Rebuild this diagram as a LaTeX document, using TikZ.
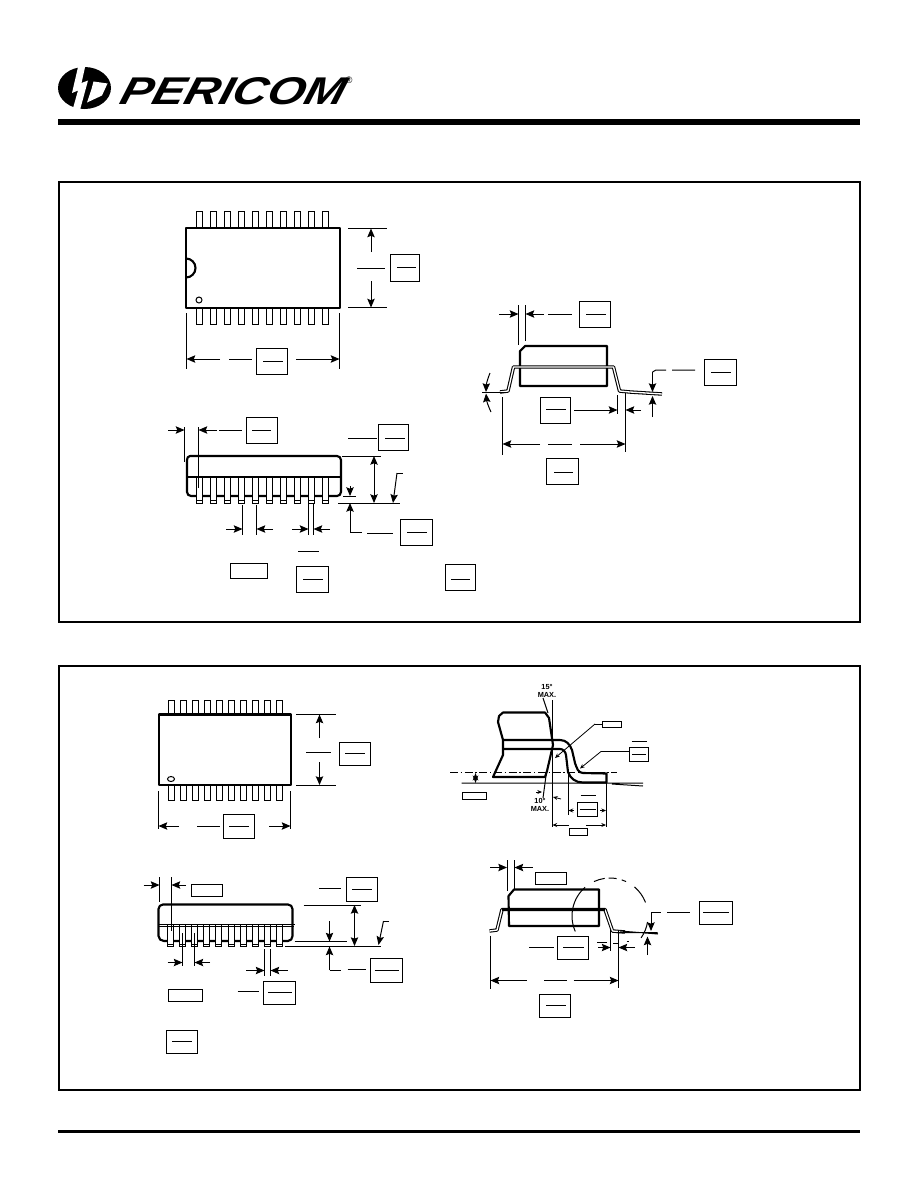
\documentclass[tikz,border=0pt]{standalone}
\usepackage{fontspec}
\setmainfont{Liberation Sans}
\usetikzlibrary{arrows.meta}
\tikzset{
  frame/.style={draw,line width=1.5pt,outer sep=0pt,inner sep=0pt,anchor=north west},
  outline/.style={line width=1.6pt,line join=round},
  thin line/.style={line width=0.75pt},
  dim/.style={line width=0.75pt,-{Stealth[length=6.5pt,width=5.5pt,inset=1pt]}},
  dimboth/.style={line width=0.75pt,{Stealth[length=6.5pt,width=5.5pt,inset=1pt]}-{Stealth[length=6.5pt,width=5.5pt,inset=1pt]}},
  small/.style={line width=0.6pt,-{Stealth[length=3.5pt,width=3pt]}},
  lab/.style={draw,line width=0.6pt,inner sep=0pt,outer sep=0pt,anchor=north west},
  pin/.style={draw,line width=0.75pt,fill=white},
  lead/.style={line width=2.6pt,line join=round},
  leadin/.style={white,line width=1pt,line join=round}
}
\newcommand{\plainbox}[5]{
  \node (#1) [lab,minimum width={(#4-#2)*0.75pt},minimum height={(#5-#3)*0.75pt}] at (#2,#3) {};
}
\begin{document}
\begin{tikzpicture}[x=0.75pt,y=-0.75pt]
  \useasboundingbox[fill=white] (0,0) rectangle (918,1188);
  % logo
  \fill (84.5,88) ellipse [x radius=26.5,y radius=21];
  \fill[white] (78.5,65) -- (85.5,65) -- (81.5,83) -- (88,80.5) -- (80,110) -- (72.5,110) -- (78,90.5) -- (72,93) -- cycle;
  \fill[white] (93.5,81.5) -- (107.5,83.5) -- (102,95.5) -- (87,102.5) -- (91.5,89) -- cycle;
  \node (brand) [font=\bfseries\itshape,transform shape,xscale=1.24,xslant=0.22,anchor=center,inner sep=0pt]
    at (234,91) {\fontsize{29pt}{29pt}\selectfont PERICOM};
  \node (reg) [font=\fontsize{7pt}{7pt}\selectfont,inner sep=0pt] at (349,80) {\textregistered};
  \fill (58,119) rectangle (860,124.7);
  \fill (58,1130) rectangle (860,1133);
  \node (panelA) [frame,minimum width=600.75pt,minimum height=330pt] at (58.5,182) {};
  \node (panelB) [frame,minimum width=600.75pt,minimum height=318pt] at (59,666) {};

  % panel A, top view
  \foreach \i in {0,...,9} {
    \draw[pin] (196+14.1*\i,211) rectangle +(6,17);
    \draw[pin] (196+14.1*\i,308) rectangle +(6,16);
  }
  \draw[outline] (186,228) rectangle (340,308);
  \draw[outline] (186,258.5) arc [start angle=-90,end angle=90,radius=9.5];
  \draw[thin line] (199,300) circle [radius=3];
  \plainbox{wdA}{390}{254}{419}{281}
  \draw[thin line] (397,267.5) -- (416,267.5);
  \draw[thin line] (348,228.5) -- (387,228.5) (348,307.5) -- (387,307.5) (357,268.5) -- (385,268.5);
  \draw[dim] (371,252) -- (371,228.5);
  \draw[dim] (371,281) -- (371,307.5);
  \plainbox{lnA}{256}{348}{287.5}{374.5}
  \draw[thin line] (263,361) -- (283,361);
  \draw[thin line] (186.5,313) -- (186.5,369) (339.5,313) -- (339.5,369) (229,359) -- (252,359);
  \draw[dim] (220,359) -- (186.5,359);
  \draw[dim] (296,359) -- (339.5,359);

  % panel A, side view
  \draw[outline] (190,456) -- (337,456) to[out=0,in=90] (341,460) -- (341,492) to[out=-90,in=0] (337,496)
    -- (191,496) to[out=180,in=-90] (187,492) -- (187,460) to[out=90,in=180] cycle;
  \foreach \i in {0,...,9} {
    \draw[pin] (196+14.05*\i,477.5) rectangle +(6,25.5);
    \draw[thin line] (196+14.05*\i,500) -- +(6,0);
  }
  \draw[outline] (186,477) -- (341,477);
  \draw[thin line] (184.5,427) -- (184.5,462) (198.5,427) -- (198.5,488);
  \draw[dim] (168,430) -- (184.5,430);
  \draw[dim] (217,430) -- (198.5,430);
  \draw[thin line] (219,430) -- (242,430);
  \plainbox{pitchA}{246.5}{417.5}{277.5}{443.5}
  \draw[thin line] (252,430) -- (271,430);
  \plainbox{htA}{378}{424}{408}{450}
  \draw[thin line] (385,438) -- (405,438) (348,438) -- (377,438);
  \draw[thin line] (342,456) -- (381,456) (338,503) -- (400,503) (343,496) -- (356,496);
  \draw[dimboth] (374,456) -- (374,503);
  \draw[dim] (350,486) -- (350,496);
  \draw[dim] (350,532) -- (350,503);
  \draw[thin line] (350,532) -- (362,532) (367,533) -- (393,533);
  \plainbox{offA}{400}{519}{432.5}{545.5}
  \draw[thin line] (407,532) -- (427,532);
  \draw[thin line] (402.5,473) -- (397,473);
  \draw[dim] (397,473) -- (393,503);
  \draw[thin line] (242.5,505) -- (242.5,535) (256.5,505) -- (256.5,535) (308.5,503) -- (308.5,535) (313.5,503) -- (313.5,535);
  \draw[dim] (226,529) -- (242.5,529);
  \draw[dim] (273,529) -- (256.5,529);
  \draw[dim] (292,529) -- (308.5,529);
  \draw[dim] (330,529) -- (313.5,529);
  \draw[thin line] (298,551) -- (319,551);
  \plainbox{seatA}{230}{563.5}{267}{578.5}
  \plainbox{legA}{296}{566}{328}{592.5}
  \draw[thin line] (303,579) -- (323,579);
  \plainbox{noteA}{445}{564}{475.5}{590.5}
  \draw[thin line] (451,579) -- (470,579);

  % panel A, end view
  \draw[thin line] (518.5,305) -- (518.5,345) (525.5,305) -- (525.5,341) (548,314) -- (572,314);
  \draw[dim] (499,314) -- (518.5,314);
  \draw[dim] (544,314) -- (525.5,314);
  \plainbox{tpA}{579}{301}{610.5}{327}
  \draw[thin line] (586,314) -- (606,314);
  \draw[outline] (520,386) -- (520,351) -- (525,346) -- (607,346) -- (607,386) -- cycle;
  \draw[lead] (500,392) -- (508,391) -- (513.5,367) -- (613.5,367) -- (619.5,391) -- (630,392) -- (662,394);
  \draw[leadin] (500,392) -- (508,391) -- (513.5,367) -- (613.5,367) -- (619.5,391) -- (630,392) -- (662,394);
  \draw[thin line] (482,392) -- (508,392);
  \draw[dim] (490,373) to[bend right=10] (486,392);
  \draw[dim] (491,412) to[bend left=10] (486,393.5);
  \draw[dim] (652.5,372) -- (652.5,392);
  \draw[thin line] (652.5,372) -- (656,370) -- (666,370) (672,370) -- (695,370);
  \plainbox{thkA}{704.5}{359}{736}{385.5}
  \draw[thin line] (711,372) -- (731,372);
  \draw[dim] (652.5,417) -- (652.5,396);
  \plainbox{ftA}{540}{397}{570.5}{423}
  \draw[thin line] (546,409) -- (566,409);
  \draw[thin line] (617.5,395) -- (617.5,414) (625.5,393) -- (625.5,452) (502.5,397) -- (502.5,455) (548,444) -- (572,444);
  \draw[dim] (574,410) -- (617.5,410);
  \draw[dim] (641,410) -- (625.5,410);
  \draw[dim] (540,444) -- (502.5,444);
  \draw[dim] (580,444) -- (625.5,444);
  \plainbox{spanA}{546.5}{458}{578.5}{484.5}
  \draw[thin line] (554,472) -- (573,472);

  % panel B, top view
  \foreach \i in {0,...,9} {
    \draw[pin] (168.5+12*\i,700) rectangle +(6,15);
    \draw[pin] (168.5+12*\i,785) rectangle +(6,15);
  }
  \draw[outline] (159,714.5) rectangle (291,785);
  \draw[thin line] (171,779) ellipse [x radius=3.5,y radius=2.5];
  \draw[thin line] (296,714.5) -- (336,714.5) (296,785) -- (336,785) (306,752) -- (331,752);
  \draw[dim] (319.5,738) -- (319.5,714.5);
  \draw[dim] (319.5,762) -- (319.5,785);
  \plainbox{wdB}{339.5}{742}{370.5}{765.5}
  \draw[thin line] (345,753) -- (365,753);
  \draw[thin line] (158.5,791) -- (158.5,829) (290.5,791) -- (290.5,829) (197,826) -- (220,826);
  \draw[dim] (179,826) -- (158.5,826);
  \draw[dim] (269,826) -- (290.5,826);
  \plainbox{lnB}{223}{814}{254.5}{838}
  \draw[thin line] (229,826) -- (249,826);

  % panel B, lead detail
  \node (maxtop) [font=\bfseries\fontsize{5.5pt}{5.4pt}\selectfont,align=center,inner sep=0pt] at (547,691) {15°\\MAX.};
  \node (maxlow) [font=\bfseries\fontsize{5.5pt}{5.4pt}\selectfont,align=center,inner sep=0pt] at (540,805) {10°\\MAX.};
  \draw[outline] (503,712.5) -- (545,712.5) -- (549,718) -- (553,745) -- (547,771) -- (545,777) -- (493,777)
    -- (503,755) -- (503,740) -- (498,722) -- (499,716) -- cycle;
  \draw[outline] (503,740) -- (560,740) to[out=0,in=110] (572,750) -- (575,763) to[out=-70,in=180] (583,773) -- (606.5,773.5) -- (606.5,782.5)
    -- (583,782.5) to[out=180,in=-70] (568,772) -- (566,755) to[out=100,in=0] (560,749) -- (503,749);
  \draw[thin line] (552.5,700) -- (552.5,827);
  \draw[thin line] (543,698) -- (548,713) (546.5,772) -- (543,798);
  \draw[small] (536,792) -- (542,792);
  \draw[small] (561,799) -- (553,797);
  \draw[thin line,dash pattern=on 6pt off 2pt on 1pt off 2pt] (450,772.5) -- (617,772.5);
  \draw[thin line] (461.5,783) -- (643,783) (612,784) -- (643,786);
  \draw[small,<->,>=Stealth] (475.5,773) -- (475.5,783);
  \plainbox{baseB}{462.5}{792.5}{486.5}{799.5}
  \plainbox{radB}{602.5}{721.5}{621.5}{727.5}
  \draw[thin line] (602.5,724) -- (595,724);
  \draw[small] (595,724) -- (555,758);
  \plainbox{rgB}{629.5}{747.5}{648.5}{761.5}
  \draw[thin line] (632,754) -- (646,754) (631.5,741.5) -- (646.5,741.5) (629.5,751.5) -- (601,751.5);
  \draw[small] (601,751.5) -- (580,768.5);
  \draw[thin line] (568.5,772) -- (568.5,815) (606,774) -- (606,827);
  \draw[small] (574,810.5) -- (568.5,810.5);
  \draw[small] (600,810.5) -- (606,810.5);
  \plainbox{ftB}{577.5}{802.5}{597.5}{816.5}
  \draw[thin line] (579.5,809.5) -- (595.5,809.5) (580.5,795) -- (595.5,795);
  \draw[small] (569,825) -- (552.5,825);
  \draw[small] (586,825) -- (606,825);
  \plainbox{gaB}{569.5}{828.5}{587.5}{835}

  % panel B, side view
  \draw[outline] (163,904.5) -- (288,904.5) to[out=0,in=90] (292.5,909) -- (292.5,936) to[out=-90,in=0] (288,941)
    -- (164,941) to[out=180,in=-90] (158.5,936) -- (158.5,909) to[out=90,in=180] cycle;
  \foreach \i in {0,...,9} {
    \draw[pin] (167.5+12.1*\i,924) rectangle +(6,22.5);
    \draw[thin line] (167.5+12.1*\i,944) -- +(6,0);
  }
  \draw[thin line] (158,924) -- (295,924) (158,926.5) -- (294,926.5);
  \draw[thin line] (159.5,877) -- (159.5,901.5) (171.5,877) -- (171.5,931);
  \draw[dim] (143.5,885) -- (159.5,885);
  \draw[dim] (186,885) -- (171.5,885);
  \plainbox{pitchB}{191.5}{884.5}{222.5}{896.5}
  \plainbox{htB}{346.5}{877.5}{377.5}{901.5}
  \draw[thin line] (352,889) -- (372,889) (319,888.5) -- (341,888.5);
  \draw[thin line] (303.5,905) -- (360.5,905) (285,946.5) -- (381,946.5) (294.5,941.5) -- (346.5,941.5);
  \draw[dimboth] (354.5,905) -- (354.5,946);
  \draw[dim] (329.5,921) -- (329.5,941.5);
  \draw[dim] (329.5,970) -- (329.5,946.5);
  \draw[thin line] (329.5,970) -- (341,970) (347.5,969.5) -- (366,969.5);
  \plainbox{offB}{370.5}{958.5}{402.5}{982.5}
  \draw[thin line] (374.5,970) -- (399,970);
  \draw[thin line] (389,921) -- (383.5,921);
  \draw[dim] (383.5,921) -- (378.5,945);
  \draw[thin line] (182.5,933) -- (182.5,966) (194.5,933) -- (194.5,966) (264.5,949) -- (264.5,975.5) (270.5,949) -- (270.5,975.5);
  \draw[dim] (167.5,962.5) -- (182.5,962.5);
  \draw[dim] (210,962.5) -- (194.5,962.5);
  \draw[dim] (246,970.5) -- (264.5,970.5);
  \draw[dim] (287.5,970.5) -- (270.5,970.5);
  \plainbox{seatB}{168.5}{989.5}{202.5}{1001.5}
  \plainbox{legB}{263.5}{981.5}{295.5}{1004.5}
  \draw[thin line] (268,992.5) -- (291.5,992.5) (237.5,991.5) -- (258.5,991.5);
  \plainbox{noteB}{166.5}{1030.5}{197.5}{1053.5}
  \draw[thin line] (172,1041.5) -- (191.5,1041.5);

  % panel B, end view
  \draw[thin line] (507,860) -- (507,890.5) (514.5,860) -- (514.5,889);
  \draw[dim] (490,867.5) -- (507,867.5);
  \draw[dim] (532.5,867.5) -- (514.5,867.5);
  \plainbox{tpB}{535.5}{872.5}{566.5}{884.5}
  \draw[outline] (509,926) -- (508.5,896) -- (514,889.5) -- (599,889.5) -- (599,926) -- cycle;
  \draw[lead] (489.5,931) -- (497,930) -- (502,909.5) -- (605,909.5) -- (612.5,931) -- (625,932);
  \draw[leadin] (489.5,931) -- (497,930) -- (502,909.5);
  \draw[leadin] (605,909.5) -- (612.5,931) -- (625,932);
  \draw[outline] (502,909.5) -- (605,909.5);
  \draw[thin line] (620,931) -- (658,934) (616.5,932.5) -- (657.5,932.5);
  \foreach \a/\b in {156/229,245/262,268/280,288/295,310/339,369/395}
    \draw[thin line] (610,916) +(\a:38) arc [start angle=\a,end angle=\b,radius=38];
  \draw[thin line] (597,942.5) -- (606.5,942.5) (613,943) -- (618,943) (626.5,941) -- (629,941);
  \draw[thin line] (651,912.5) -- (661,912.5) (667,912.5) -- (690,912.5);
  \draw[dim] (651,912.5) -- (651,931);
  \draw[dim] (647.5,955) -- (647.5,936.5);
  \plainbox{thkB}{699.5}{901.5}{732.5}{924.5}
  \draw[thin line] (703,912.5) -- (728.5,912.5);
  \plainbox{ftB2}{557.5}{936}{588.5}{959.5}
  \draw[thin line] (563,947) -- (584,947) (529,947) -- (553.5,947);
  \draw[thin line] (610.5,930) -- (610.5,950.5) (618.5,930) -- (618.5,987.5) (490.5,935.5) -- (490.5,988.5) (544,980.5) -- (567,980.5);
  \draw[dim] (598,947.5) -- (610.5,947.5);
  \draw[dim] (635,947.5) -- (618.5,947.5);
  \draw[dim] (526.5,980.5) -- (490.5,980.5);
  \draw[dim] (573.5,980.5) -- (618.5,980.5);
  \plainbox{spanB}{539.5}{994.5}{570.5}{1017.5}
  \draw[thin line] (546,1005.5) -- (566,1005.5);
\end{tikzpicture}
\end{document}
